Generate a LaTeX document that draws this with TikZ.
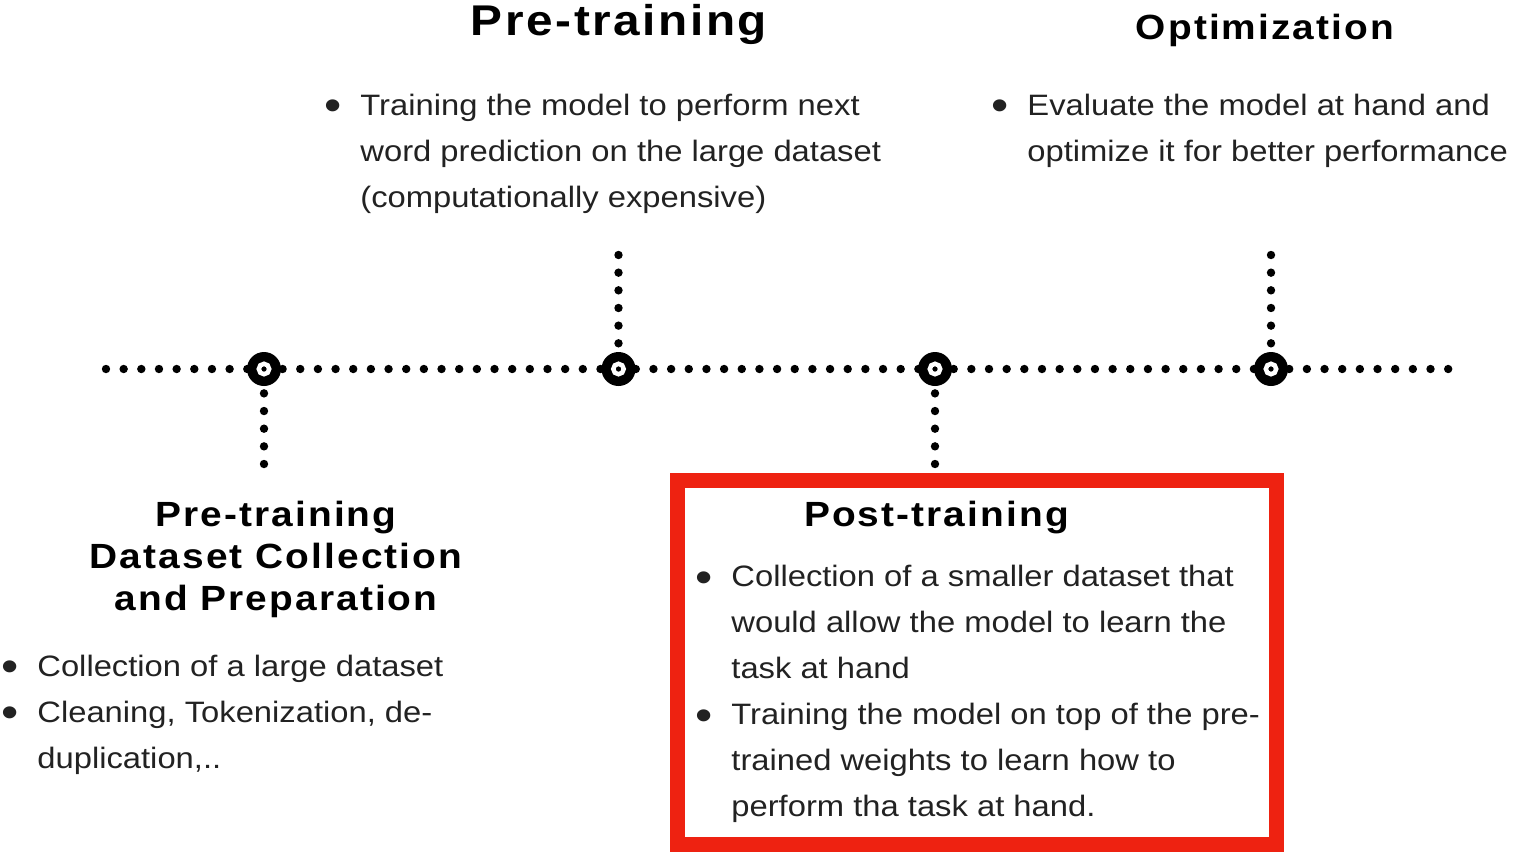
\documentclass[tikz,border=0pt]{standalone}
\usepackage{fontspec}
\usepackage{graphicx}
\setmainfont{Liberation Sans}[FakeStretch=1.11]
\newfontfamily\titlefont{Liberation Sans}[FakeStretch=1.11,LetterSpace=6]
\usetikzlibrary{backgrounds}
\definecolor{boxred}{RGB}{238,34,17}
\definecolor{bodytext}{RGB}{34,34,34}
\newcommand\LeftLines[1]{\vtop{\baselineskip=23pt\lineskiplimit=-20pt\halign{##\hfil\cr#1\crcr}}}
\newcommand\MidLines[1]{\vtop{\baselineskip=21pt\lineskiplimit=-20pt\halign{\hfil##\hfil\cr#1\crcr}}}
\newcommand\bul{\llap{\raisebox{-0.18em}{\scalebox{1.5}{\textbullet}}\hspace{9.2pt}}}
\begin{document}
\begin{tikzpicture}[x=0.5pt,y=-0.5pt,
  bigtitle/.style={inner sep=0pt, font=\titlefont\bfseries\fontsize{21.5}{25}\selectfont, text=black},
  sectitle/.style={inner sep=0pt, font=\titlefont\bfseries\fontsize{17.5}{21}\selectfont, text=black},
  bodyitems/.style={inner sep=0pt, anchor=base west, font=\fontsize{14.75}{23}\selectfont, text=bodytext},
  marker/.style={circle, fill=black, minimum size=17pt, inner sep=0pt,
    path picture={\draw[white, line width=2.25pt] (path picture bounding box.center) circle[radius=2.6pt];}},
  dotline/.style={line width=4.2pt, line cap=round, dash pattern=on 0pt off 8.83pt},
  redbox/.style={draw=boxred, line width=7.5pt}]
\useasboundingbox (0,0) rectangle (1519,852);

% timeline markers
\node[marker] (m1) at (264,369) {};
\node[marker] (m2) at (618.5,369) {};
\node[marker] (m3) at (935,369) {};
\node[marker] (m4) at (1271,369) {};
\coordinate (lineL) at (106,369);
\coordinate (lineR) at (1448.5,369);
\coordinate (up2) at (618.5,255);
\coordinate (up4) at (1271,255);
\coordinate (down1) at (264,464);
\coordinate (down3) at (935,464);

\begin{scope}[on background layer]
  \draw[dotline] (lineL) -- (m1.center) -- (m2.center) -- (m3.center) -- (m4.center) -- (lineR);
  \draw[dotline] (up2) -- (m2.center);
  \draw[dotline] (up4) -- (m4.center);
  \draw[dotline] (down1) -- (m1.center);
  \draw[dotline] (down3) -- (m3.center);
\end{scope}

% highlight box
\draw[redbox] (677.5,480.5) rectangle (1276.5,844.5);

% titles
\node[bigtitle, anchor=base] (tpre) at (619,35) {Pre-training};
\node[sectitle, anchor=base] (topt) at (1265,39.5) {Optimization};
\node[sectitle, anchor=base] (tdata) at (276,526.5) {\MidLines{Pre-training\cr Dataset Collection\cr and Preparation}};
\node[sectitle, anchor=base] (tpost) at (936.5,526.5) {Post-training};

% bullet texts
\node[bodyitems] (bpre) at (360,115) {\LeftLines{\bul Training the model to perform next\cr word prediction on the large dataset\cr (computationally expensive)}};
\node[bodyitems] (bopt) at (1027,115) {\LeftLines{\bul Evaluate the model at hand and\cr optimize it for better performance}};
\node[bodyitems] (bdata1) at (37,676) {\LeftLines{\bul Collection of a large dataset}};
\node[bodyitems] (bdata2) at (37,722) {\LeftLines{\bul Cleaning, Tokenization, de-\cr duplication,..}};
\node[bodyitems] (bpost1) at (731,586.8) {\LeftLines{\bul Collection of a smaller dataset that\cr would allow the model to learn the\cr task at hand}};
\node[bodyitems] (bpost2) at (731,724.8) {\LeftLines{\bul Training the model on top of the pre-\cr trained weights to learn how to\cr perform tha task at hand.}};
\end{tikzpicture}
\end{document}
